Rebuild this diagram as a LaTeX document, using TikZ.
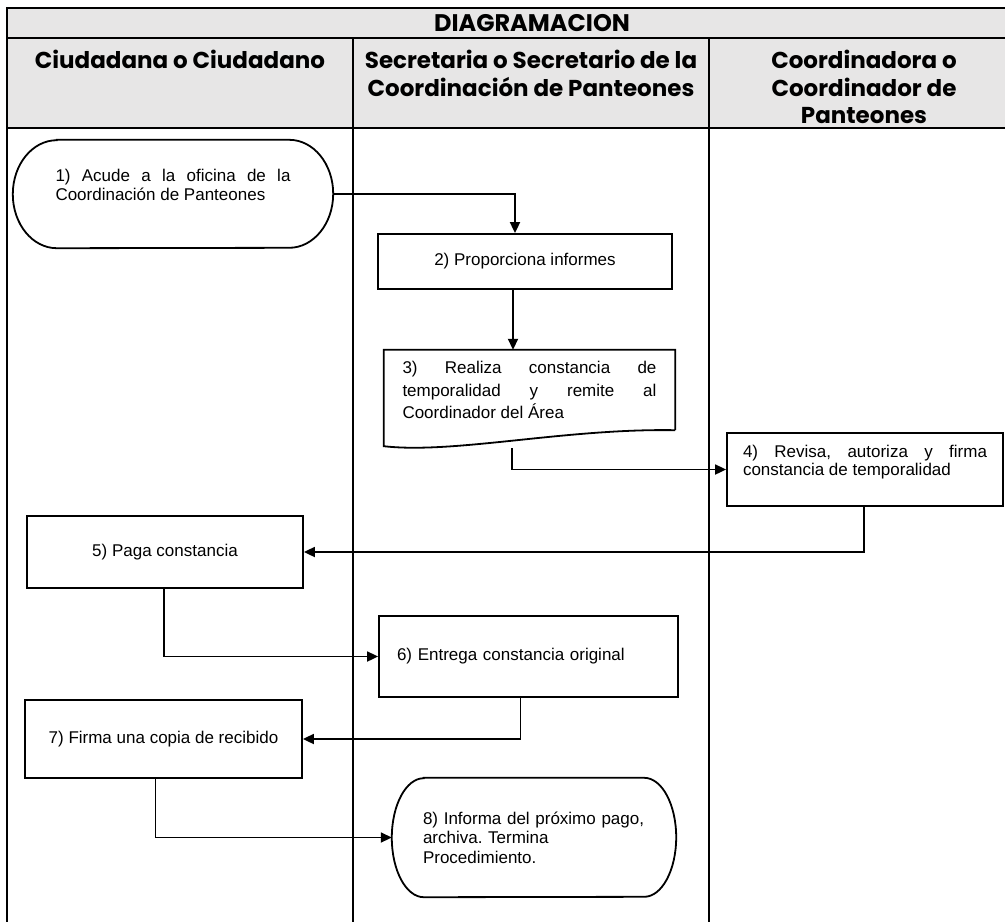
\documentclass[tikz,border=0pt]{standalone}
\usepackage{fontspec}
\setmainfont{Liberation Sans}
\newfontfamily\gothicfont{Poppins}
\usetikzlibrary{arrows.meta,positioning,calc}
\definecolor{hdrgray}{RGB}{231,230,230}
\hyphenpenalty=10000
\exhyphenpenalty=10000
\frenchspacing
\newcommand{\stepfont}{\fontsize{17}{18.5}\selectfont}

\begin{document}
\begin{tikzpicture}[x=1pt,y=-1pt,
	grid/.style={line width=1.1pt},
	hdr/.style={font=\gothicfont\bfseries\fontsize{23}{27.5}\selectfont, align=center, inner sep=0pt},
	task/.style={draw, line width=1.8pt, font=\stepfont, inner sep=0pt, align=center},
	textonly/.style={font=\stepfont, inner sep=0pt},
	flow/.style={line width=1.8pt, -{Triangle[length=11pt,width=10pt]}}]
	\useasboundingbox (0,0) rectangle (1005,922);
	
	% Header
	\fill[hdrgray] (7,8) rectangle (1005,128);
	\draw[grid] (1005,8) -- (7,8) -- (7,128) -- (1005,128);
	\draw[grid] (7,38) -- (1005,38);
	\node[hdr, font=\gothicfont\bfseries\fontsize{24}{27.5}\selectfont] (title) at (532,23) {DIAGRAMACION};
	\node[hdr, anchor=north] (lane1) at (180,50) {Ciudadana o Ciudadano};
	\node[hdr, anchor=north] (lane2) at (531,50) {Secretaria o Secretario de la\\Coordinación de Panteones};
	\node[hdr, anchor=north] (lane3) at (864,50) {Coordinadora o\\Coordinador de\\Panteones};
	
	% Lanes
	\foreach \x in {7,353,709} {
		\draw[grid] (\x,38) -- (\x,922);
	}
	
	% Steps
	\node[textonly, minimum width=320pt, minimum height=108pt, text width=235pt, align=justify] (n1) at (173,194)
		{1) Acude a la oficina de la Coordinación de Panteones\\\mbox{}};
	\draw[line width=1.8pt] ([xshift=44pt]n1.north west) -- ([xshift=-44pt]n1.north east)
		arc[start angle=90, end angle=-90, x radius=44pt, y radius=54pt]
		-- ([xshift=44pt]n1.south west)
		arc[start angle=270, end angle=90, x radius=44pt, y radius=54pt] -- cycle;
	
	\node[task, minimum width=294pt, minimum height=55pt] (n2) at (525,261.5) {2) Proporciona informes};
	
	\node[textonly, minimum width=291pt, minimum height=80pt, text width=254pt, align=justify,
		font=\fontsize{17}{22.5}\selectfont] (n3) at (529.5,390)
		{3) Realiza constancia de temporalidad y remite al Coordinador del Área};
	\draw[line width=1.8pt] (n3.south east) -- (n3.north east) -- (n3.north west) -- ([yshift=-16pt]n3.south west)
		.. controls ([xshift=70pt,yshift=-24pt]n3.south west) and ([xshift=-110pt,yshift=2pt]n3.south east) .. (n3.south east);
	\coordinate (n3out) at ([xshift=-17.5pt,yshift=-18pt]n3.south);
	
	\node[task, minimum width=276pt, minimum height=73pt, text width=244pt, align=justify] (n4) at (865,469.5)
		{4) Revisa, autoriza y firma constancia de temporalidad\\\mbox{}};
	
	\node[task, minimum width=276pt, minimum height=72pt] (n5) at (165,552) {5) Paga constancia};
	
	\node[task, minimum width=299pt, minimum height=81pt, text width=263pt, align=left] (n6) at (528.5,656.5)
		{6) Entrega constancia original};
	
	\node[task, minimum width=277pt, minimum height=78pt] (n7) at (163.5,739) {7) Firma una copia de recibido};
	
	\node[textonly, minimum width=284pt, minimum height=119pt, text width=222pt, align=left,
		font=\fontsize{17}{19.5}\selectfont] (n8) at (534,837.5)
		{8) Informa del próximo pago,\\archiva. Termina\\Procedimiento.};
	\draw[line width=1.8pt] ([xshift=32pt]n8.north west) -- ([xshift=-32pt]n8.north east)
		arc[start angle=90, end angle=-90, x radius=32pt, y radius=59.5pt]
		-- ([xshift=32pt]n8.south west)
		arc[start angle=270, end angle=90, x radius=32pt, y radius=59.5pt] -- cycle;
	
	% Connectors
	\draw[flow] (n1.east) -| ([xshift=-10pt]n2.north);
	\draw[flow] ([xshift=-12pt]n2.south) -- ([xshift=-12pt]n2.south |- n3.north);
	\draw[flow] (n3out) |- (n4.west);
	\draw[flow] ([xshift=-1pt]n4.south) |- (n5.east);
	\draw[flow] ([xshift=-1pt]n5.south) |- (n6.west);
	\draw[flow] ([xshift=-8pt]n6.south) |- (n7.east);
	\draw[flow] ([xshift=-8pt]n7.south) |- (n8.west);
\end{tikzpicture}
\end{document}
